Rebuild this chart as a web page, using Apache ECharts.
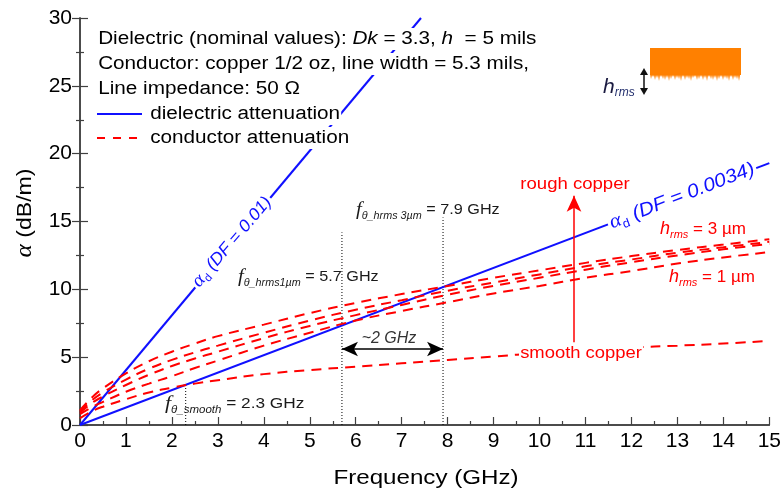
<!DOCTYPE html>
<html><head><meta charset="utf-8">
<script src="https://cdn.jsdelivr.net/npm/echarts@6/dist/echarts.min.js"></script>
<style>html,body{margin:0;padding:0;background:#fff}#c{width:784px;height:494px}</style>
</head><body><div id="c"></div>
<script>
// ---- data ----
const freq      = [0, 0.25, 0.5, 1, 1.5, 2, 2.5, 3, 4, 5, 6, 7, 8, 9, 10, 11, 12, 13, 14, 15];
const smoothCu  = [0.5, 1.0, 1.35, 1.9, 2.4, 2.75, 3.05, 3.3, 3.75, 4.05, 4.3, 4.55, 4.8, 5.05, 5.3, 5.5, 5.7, 5.85, 6.0, 6.2];
const rough1um  = [0.8, 1.3, 1.7, 2.45, 3.05, 3.6, 4.2, 4.75, 5.85, 6.8, 7.7, 8.4, 9.05, 9.7, 10.25, 10.85, 11.35, 11.9, 12.35, 12.75];
const roughB    = [0.9, 1.6, 2.1, 2.95, 3.7, 4.35, 4.9, 5.4, 6.4, 7.3, 8.1, 8.85, 9.6, 10.25, 10.85, 11.45, 12.0, 12.5, 12.95, 13.35];
const roughC    = [1.0, 1.8, 2.4, 3.35, 4.15, 4.8, 5.35, 5.85, 6.8, 7.7, 8.5, 9.2, 9.9, 10.5, 11.1, 11.7, 12.2, 12.7, 13.1, 13.5];
const rough3um  = [1.1, 2.0, 2.7, 3.8, 4.7, 5.4, 6.0, 6.55, 7.4, 8.25, 9.0, 9.65, 10.25, 10.85, 11.4, 11.95, 12.45, 12.9, 13.3, 13.7];
const dfHighF = [0, 7.42], dfHighA = [0, 30];     // DF = 0.01
const dfLowF  = [0, 15],   dfLowA  = [0, 19.3];   // DF = 0.0034
const crossF   = [2.3, 5.7, 7.9];
const crossTop = [3.1, 14.2, 15.3];
const gapArrowY = 5.6;
const roughArrowF = 10.75, roughArrowFrom = 6.1, roughArrowTo = 16.9;

const FONT = "'Liberation Sans', Arial, sans-serif";
const SERIF = "'Liberation Serif', serif";
const BLUE = '#1010ff', RED = '#ff0000', AX = '#404040';
const pairs = (xs, ys) => xs.map((x, i) => [x, ys[i]]);

const chart = echarts.init(document.getElementById('c'), null, {renderer: 'canvas'});

const redCurve = (name, arr) => ({
  name, type: 'line', data: pairs(freq, arr), smooth: 0.45, symbol: 'none', z: 4,
  lineStyle: {color: RED, width: 2, type: [10, 7]}
});

const series = [
  {name: 'DF 0.01', type: 'line', data: pairs(dfHighF, dfHighA), symbol: 'none', z: 3,
   lineStyle: {color: BLUE, width: 2}},
  {name: 'DF 0.0034', type: 'line', data: pairs(dfLowF, dfLowA), symbol: 'none', z: 3,
   lineStyle: {color: BLUE, width: 2}},
  redCurve('smooth', smoothCu),
  redCurve('1um', rough1um),
  redCurve('B', roughB),
  redCurve('C', roughC),
  redCurve('3um', rough3um)
];
crossF.forEach((f, i) => {
  series.push({type: 'line', data: [[f, 0], [f, crossTop[i]]], symbol: 'none', z: 2,
    lineStyle: {color: '#000', width: 1, type: [1, 2]}});
});
series[2].markLine = {
  silent: true, symbol: ['none', 'arrow'], symbolSize: [11, 16], label: {show: false},
  lineStyle: {color: RED, width: 1.5, type: 'solid'},
  data: [[{coord: [roughArrowF, roughArrowFrom]}, {coord: [roughArrowF, roughArrowTo]}]]
};
series[series.length - 1].markLine = {
  silent: true, symbol: ['arrow', 'arrow'], symbolSize: [11, 16], label: {show: false},
  lineStyle: {color: '#000', width: 1.5, type: 'solid'},
  data: [[{coord: [crossF[1], gapArrowY]}, {coord: [crossF[2], gapArrowY]}]]
};

// copper icon fringe (decoration)
const teeth = [4, 2, 5, 3, 6, 2, 4, 5, 3, 6, 4, 2, 5, 3, 4, 6, 2, 5, 3, 4, 6, 3, 2, 5];
const fringe = [[650, 74]];
for (let i = 0; i < 45; i++) {
  const x = 651 + i * 2;
  fringe.push([x, 75 + teeth[i % teeth.length]]);
  fringe.push([x + 1, 75]);
}
fringe.push([741, 74]);

const LEG = 18, LEGSX = 1.15;
const legTxt = (x, y, text, rich) => ({
  type: 'text', x, y, z: 100, scaleX: LEGSX,
  style: {text, rich, fontSize: LEG, fontFamily: FONT, fill: '#000',
    align: 'left', verticalAlign: 'middle', lineHeight: 22, backgroundColor: '#fff', padding: [0, 1]}
});

const graphic = [
  // legend / info rows
  legTxt(97, 39, '{n|Dielectric (nominal values): }{i|Dk}{n| = 3.3, }{i|h}{n|  = 5 mils}',
      {n: {fontSize: LEG, fontFamily: FONT, lineHeight: 22}, i: {fontSize: LEG, fontFamily: FONT, fontStyle: 'italic', lineHeight: 22}}),
  legTxt(97, 64, 'Conductor: copper 1/2 oz, line width = 5.3 mils,'),
  legTxt(97, 89, 'Line impedance: 50 Ω'),
  {type: 'line', z: 100, shape: {x1: 97, y1: 114, x2: 142, y2: 114}, style: {stroke: BLUE, lineWidth: 2}},
  legTxt(149, 114, 'dielectric attenuation'),
  {type: 'line', z: 100, shape: {x1: 97, y1: 138, x2: 143, y2: 138}, style: {stroke: RED, lineWidth: 2, lineDash: [8, 8]}},
  legTxt(149, 138, 'conductor attenuation'),

  // axis titles
  {type: 'text', x: 426, y: 478, z: 100, scaleX: 1.15,
   style: {text: 'Frequency (GHz)', fontSize: 21, fontFamily: FONT, fill: '#000', align: 'center', verticalAlign: 'middle'}},
  {type: 'text', x: 25, y: 213, z: 100, rotation: Math.PI / 2, scaleX: 1.1,
   style: {text: '{a|α}{b| (dB/m)}', rich: {a: {fontSize: 23, fontFamily: SERIF, fontStyle: 'italic', fill: '#000'}, b: {fontSize: 21, fontFamily: FONT, fill: '#000'}},
     align: 'center', verticalAlign: 'middle'}},

  // blue labels on the lines
  {type: 'text', x: 232, y: 242, z: 100, rotation: 49.5 * Math.PI / 180, scaleX: 1.05,
   style: {text: '{a|α}{d|d}{t| (DF = 0.01)}', backgroundColor: '#fff', padding: [0, 2],
     rich: {a: {fontSize: 19, fontFamily: SERIF, fontStyle: 'italic', fill: BLUE, lineHeight: 22},
            d: {fontSize: 11, fontFamily: FONT, fill: BLUE, lineHeight: 10, verticalAlign: 'bottom'},
            t: {fontSize: 17, fontFamily: FONT, fontStyle: 'italic', fill: BLUE, lineHeight: 22}},
     align: 'center', verticalAlign: 'middle'}},
  {type: 'text', x: 682, y: 196, z: 100, rotation: 21 * Math.PI / 180, scaleX: 1.1,
   style: {text: '{a|α}{d|d}{t| (DF = 0.0034)}', backgroundColor: '#fff', padding: [0, 2],
     rich: {a: {fontSize: 20, fontFamily: SERIF, fontStyle: 'italic', fill: BLUE, lineHeight: 24},
            d: {fontSize: 12, fontFamily: FONT, fill: BLUE, lineHeight: 11, verticalAlign: 'bottom'},
            t: {fontSize: 19, fontFamily: FONT, fontStyle: 'italic', fill: BLUE, lineHeight: 24}},
     align: 'center', verticalAlign: 'middle'}},

  // f_theta labels
  ...[[165, 404, 'θ_smooth', '2.3', 1.15], [238, 277, 'θ_hrms1µm', '5.7', 1.08], [356, 210, 'θ_hrms 3µm', '7.9', 1.08]].map(([x, y, sub, v, sx]) => ({
    type: 'text', x, y, z: 100, scaleX: sx,
    style: {text: '{f|f}{s|' + sub + '}{n| = ' + v + ' GHz}',
      rich: {f: {fontSize: 19, fontFamily: SERIF, fontStyle: 'italic', fill: '#1a1a1a', lineHeight: 22},
             s: {fontSize: 10, fontFamily: FONT, fontStyle: 'italic', fill: '#1a1a1a', lineHeight: 9, verticalAlign: 'bottom'},
             n: {fontSize: 15, fontFamily: FONT, fill: '#1a1a1a', lineHeight: 22}},
      align: 'left', verticalAlign: 'middle'}
  })),
  {type: 'text', x: 389, y: 339, z: 100, style: {text: '~2 GHz', fontSize: 16, fontFamily: FONT, fontStyle: 'italic', fill: '#333', align: 'center', verticalAlign: 'middle'}},

  // red labels
  {type: 'text', x: 575, y: 185, z: 100, scaleX: 1.16, style: {text: 'rough copper', fontSize: 16, fontFamily: FONT, fill: RED, align: 'center', verticalAlign: 'middle'}},
  {type: 'text', x: 519, y: 354, z: 100, scaleX: 1.15, style: {text: 'smooth copper', fontSize: 16, fontFamily: FONT, fill: RED, align: 'left', verticalAlign: 'middle', backgroundColor: '#fff', padding: [0, 1]}},
  ...[[660, 229, '3'], [669, 277, '1']].map(([x, y, v]) => ({
    type: 'text', x, y, z: 100,
    style: {text: '{h|h}{s|rms}{n| = ' + v + ' µm}',
      rich: {h: {fontSize: 18, fontFamily: FONT, fontStyle: 'italic', fill: RED, lineHeight: 22},
             s: {fontSize: 11, fontFamily: FONT, fontStyle: 'italic', fill: RED, lineHeight: 9, verticalAlign: 'bottom'},
             n: {fontSize: 17, fontFamily: FONT, fill: RED, lineHeight: 22}},
      align: 'left', verticalAlign: 'middle'}
  })),

  // copper icon
  {type: 'rect', z: 100, shape: {x: 650, y: 48, width: 91, height: 27}, style: {fill: '#ff8000'}},
  {type: 'polygon', z: 100, shape: {points: fringe}, style: {fill: '#ff8000'}},
  {type: 'line', z: 100, shape: {x1: 644, y1: 73, x2: 644, y2: 90}, style: {stroke: '#111', lineWidth: 1.5}},
  {type: 'polygon', z: 100, shape: {points: [[640, 75], [648, 75], [644, 68]]}, style: {fill: '#111'}},
  {type: 'polygon', z: 100, shape: {points: [[640, 88], [648, 88], [644, 95]]}, style: {fill: '#111'}},
  {type: 'text', x: 603, y: 87, z: 100,
   style: {text: '{h|h}{s|rms}',
     rich: {h: {fontSize: 21, fontFamily: FONT, fontStyle: 'italic', fill: '#1a1a40', lineHeight: 24},
            s: {fontSize: 12, fontFamily: FONT, fontStyle: 'italic', fill: '#24306e', lineHeight: 10, verticalAlign: 'bottom'}},
     align: 'left', verticalAlign: 'middle'}}
];

const axisCommon = {
  axisLine: {show: true, lineStyle: {color: AX, width: 1.5}},
  splitLine: {show: false}
};

chart.setOption({
  animation: false,
  backgroundColor: '#fff',
  grid: {left: 80, right: 14, top: 18, bottom: 69, containLabel: false},
  xAxis: [
    Object.assign({type: 'value', min: 0, max: 15, interval: 1, position: 'bottom',
      axisTick: {show: true, inside: true, length: 8, lineStyle: {color: AX, width: 1.2}},
      minorTick: {show: true, splitNumber: 2, length: 4, lineStyle: {color: AX, width: 1.2}},
      axisLabel: {show: true, fontSize: 21, fontFamily: FONT, color: '#000', margin: 6}}, axisCommon),
    Object.assign({type: 'value', min: 0, max: 15, interval: 1, position: 'top',
      axisTick: {show: false}, axisLabel: {show: false}}, axisCommon)
  ],
  yAxis: [
    Object.assign({type: 'value', min: 0, max: 30, interval: 5, position: 'left',
      axisTick: {show: true, inside: true, length: 8, lineStyle: {color: AX, width: 1.2}},
      minorTick: {show: true, splitNumber: 2, length: 4, lineStyle: {color: AX, width: 1.2}},
      axisLabel: {show: true, fontSize: 21, fontFamily: FONT, color: '#000', margin: 8}}, axisCommon),
    Object.assign({type: 'value', min: 0, max: 30, interval: 5, position: 'right',
      axisTick: {show: true, inside: true, length: 8, lineStyle: {color: AX, width: 1.2}},
      minorTick: {show: true, splitNumber: 2, length: 4, lineStyle: {color: AX, width: 1.2}},
      axisLabel: {show: false}}, axisCommon)
  ],
  series,
  graphic
});
</script>
</body></html>
